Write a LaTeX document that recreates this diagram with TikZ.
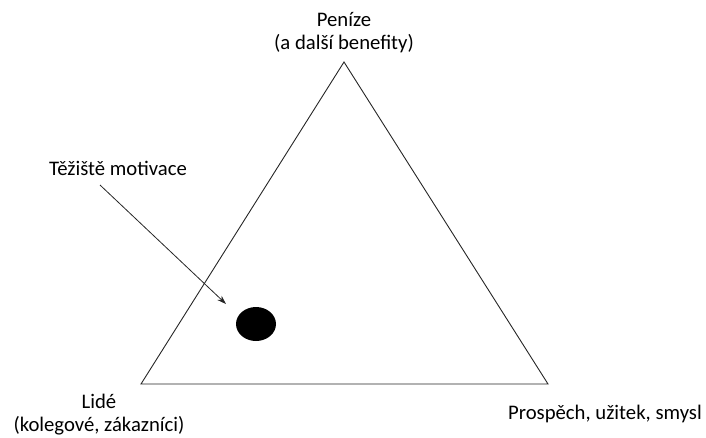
\documentclass[tikz,border=0pt]{standalone}
\usepackage{fontspec}
\setmainfont{Carlito}
\usetikzlibrary{arrows.meta,shapes.geometric}

\begin{document}
\begin{tikzpicture}[x=1pt, y=-1pt, >={Stealth[length=9pt,width=6pt]},
    corner/.style={font=\fontsize{20.7}{23}\selectfont, inner sep=0pt, align=center}]
  \useasboundingbox (0,0) rectangle (706,437);
  % triangle
  \coordinate (peak) at (344,62);
  \coordinate (left) at (141,384);
  \coordinate (right) at (548,384);
  \draw[line width=0.9pt, black!85] (left) -- (peak) -- (right) -- cycle;
  % vertex labels
  \node[corner] (money) at (344,33) {Peníze\\(a další benefity)};
  \node[corner] (people) at (99,415) {Lidé\\(kolegové, zákazníci)};
  \node[corner, anchor=base] (benefit) at (605,419) {Prospěch, užitek, smysl};
  % centre of gravity
  \node[ellipse, fill=black, minimum width=40pt, minimum height=34pt, inner sep=0pt] (dot) at (256,324) {};
  \node[corner, anchor=base] (centre) at (118,175) {Těžiště motivace};
  \coordinate (tail) at (100,185);
  \coordinate (tip) at (226,304);
  \draw[->, line width=0.8pt, black!85] (tail) -- (tip);
\end{tikzpicture}
\end{document}
